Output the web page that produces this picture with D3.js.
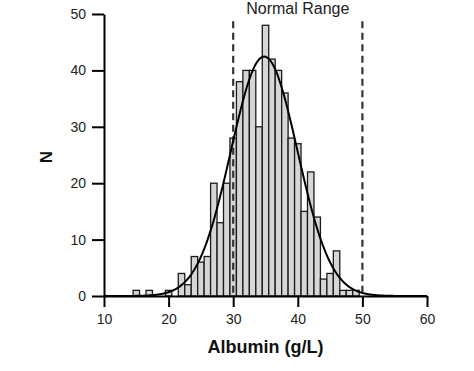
<!DOCTYPE html>
<html>
<head>
<meta charset="utf-8">
<script src="https://cdn.jsdelivr.net/npm/d3@7"></script>
<style>
  body { margin: 0; background: #fff; }
  text { font-family: "Liberation Sans", Arial, sans-serif; }
</style>
</head>
<body>
<svg id="chart"></svg>
<script>
// histogram bins (centre, g/L) and counts
const albumin = [15,16,17,18,19,20,21,22,23,24,25,26,27,28,29,30,31,32,33,34,35,36,37,38,39,40,41,42,43,44,45,46,47,48,49]
const counts  = [1,0,1,0,0,1,0,4,2,7,6,7,20,13,20,28,38,40,40,30,48,42,40,36,28,27,15,22,14,3,4,8,1,1,1]
const xTicks = [10, 20, 30, 40, 50, 60]
const yTicks = [0, 10, 20, 30, 40, 50]
const normalRange = [30, 50]
// fitted normal curve
const fitMean = 34.8
const fitSd = 5.15

const width = 474, height = 371
const svg = d3.select('#chart').attr('width', width).attr('height', height)

const x = d3.scaleLinear().domain([10, 60]).range([104, 427])
const y = d3.scaleLinear().domain([0, 50]).range([296, 14])

const binW = 1
const total = d3.sum(counts)
const bins = albumin.map((a, i) => ({ a, n: counts[i] })).filter(d => d.n > 0)

// bars
svg.selectAll('.bar').data(bins).join('rect')
  .attr('class', 'bar')
  .attr('x', d => x(d.a - binW / 2))
  .attr('y', d => y(d.n))
  .attr('width', d => x(d.a + binW / 2) - x(d.a - binW / 2))
  .attr('height', d => y(0) - y(d.n))
  .attr('fill', '#d6d6d6')
  .attr('stroke', '#1a1a1a')
  .attr('stroke-width', 1.3)

// normal range lines
svg.selectAll('.range').data(normalRange).join('line')
  .attr('class', 'range')
  .attr('x1', d => x(d)).attr('x2', d => x(d))
  .attr('y1', y(48.7)).attr('y2', y(0))
  .attr('stroke', '#333')
  .attr('stroke-width', 2.2)
  .attr('stroke-dasharray', '7,4.5')

svg.append('text')
  .attr('x', x(d3.mean(normalRange)))
  .attr('y', 14)
  .attr('text-anchor', 'middle')
  .attr('font-size', 16)
  .attr('fill', '#222')
  .text('Normal Range')

// fitted curve
const pts = d3.range(10, 60.01, 0.1).map(v => [v,
  total * binW / (fitSd * Math.sqrt(2 * Math.PI)) * Math.exp(-0.5 * ((v - fitMean) / fitSd) ** 2)])
svg.append('path')
  .datum(pts)
  .attr('d', d3.line().x(d => x(d[0])).y(d => y(d[1])).curve(d3.curveBasis))
  .attr('fill', 'none')
  .attr('stroke', '#000')
  .attr('stroke-width', 2)

// axes
const xAxis = svg.append('g')
  .attr('transform', `translate(0,${y(0)})`)
  .call(d3.axisBottom(x).tickValues(xTicks).tickSize(11).tickPadding(7).tickSizeOuter(0))
const yAxis = svg.append('g')
  .attr('transform', `translate(${x(10)},0)`)
  .call(d3.axisLeft(y).tickValues(yTicks).tickSize(12).tickPadding(6).tickSizeOuter(0))

for (const ax of [xAxis, yAxis]) {
  ax.select('.domain').attr('stroke', '#000').attr('stroke-width', 2)
  ax.selectAll('.tick line').attr('stroke', '#000').attr('stroke-width', 2)
  ax.selectAll('.tick text')
    .attr('font-size', 14)
    .attr('fill', '#222')
    .style('font-family', '"Liberation Sans", Arial, sans-serif')
}

svg.append('text')
  .attr('x', (x.range()[0] + x.range()[1]) / 2)
  .attr('y', 353)
  .attr('text-anchor', 'middle')
  .attr('font-size', 18)
  .attr('font-weight', 'bold')
  .attr('fill', '#111')
  .text('Albumin (g/L)')

svg.append('text')
  .attr('transform', 'translate(52,157) rotate(-90)')
  .attr('text-anchor', 'middle')
  .attr('font-size', 17)
  .attr('font-weight', 'bold')
  .attr('fill', '#111')
  .text('N')
</script>
</body>
</html>
